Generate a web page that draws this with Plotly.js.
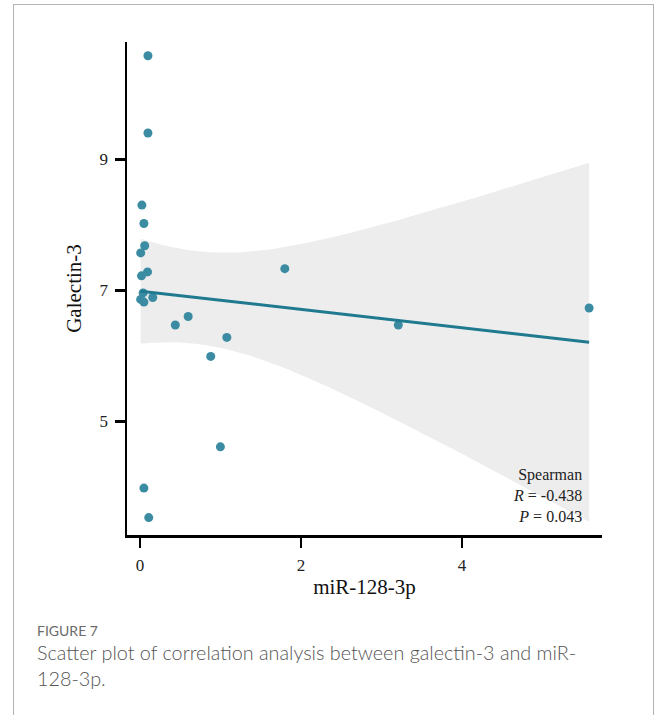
<!DOCTYPE html>
<html>
<head>
<meta charset="utf-8">
<script src="https://cdn.plot.ly/plotly-3.0.1.min.js"></script>
<style>
  html, body { margin: 0; padding: 0; background: #ffffff; }
  #wrap { position: relative; width: 656px; height: 715px; overflow: hidden; }
  #card { position: absolute; left: 13px; top: 4px; width: 641px; height: 760px; border: 1px solid #b4b4b4; box-sizing: border-box; }
  #chart { position: absolute; left: 0; top: 0; width: 656px; height: 715px; }
  #figlabel { position: absolute; left: 37px; top: 622px; font-family: Lato, "Open Sans", sans-serif; font-size: 14px; color: #6a6a6a; }
  #caption { position: absolute; left: 37px; top: 639px; width: 600px; font-family: Lato, "Open Sans", sans-serif; font-weight: 300; font-size: 19.8px; line-height: 26px; color: #555555; }
</style>
</head>
<body>
<div id="wrap">
  <div id="card"></div>
  <div id="chart"></div>
  <div id="figlabel">FIGURE 7</div>
  <div id="caption">Scatter plot of correlation analysis between galectin-3 and miR-<br>128-3p.</div>
</div>
<script>
// Data
var mir128 = [0.10, 0.10, 0.025, 0.05, 0.06, 0.01, 0.095, 0.02, 0.04, 0.01, 0.05, 0.16,
              0.44, 0.60, 1.08, 0.88, 1.80, 1.00, 0.05, 0.11, 3.21, 5.58];
var galectin3 = [10.58, 9.40, 8.30, 8.02, 7.68, 7.57, 7.28, 7.22, 6.96, 6.86, 6.82, 6.89,
                 6.47, 6.60, 6.28, 5.99, 7.33, 4.61, 3.98, 3.53, 6.47, 6.73];
var xTicks = [0, 2, 4];
var yTicks = [5, 7, 9];
var statLines = ["Spearman", "<i>R</i> = -0.438", "<i>P</i> = 0.043"];

// Linear fit with 95% confidence band (as geom_smooth(method = "lm"))
var n = mir128.length;
var mx = mir128.reduce(function(a, b){return a + b;}, 0) / n;
var my = galectin3.reduce(function(a, b){return a + b;}, 0) / n;
var sxx = 0, sxy = 0;
for (var i = 0; i < n; i++) { sxx += (mir128[i]-mx)*(mir128[i]-mx); sxy += (mir128[i]-mx)*(galectin3[i]-my); }
var slope = sxy / sxx, intercept = my - slope * mx;
var sse = 0;
for (var i = 0; i < n; i++) { var r = galectin3[i] - (intercept + slope*mir128[i]); sse += r*r; }
var s = Math.sqrt(sse / (n - 2));
var tq = 2.086; // t(0.975, df = 20)
var xmin = Math.min.apply(null, mir128), xmax = Math.max.apply(null, mir128);
var fx = [], fy = [], lo = [], hi = [];
for (var k = 0; k < 80; k++) {
  var x = xmin + (xmax - xmin) * k / 79;
  var y = intercept + slope * x;
  var se = s * Math.sqrt(1/n + (x-mx)*(x-mx)/sxx);
  fx.push(x); fy.push(y); lo.push(y - tq*se); hi.push(y + tq*se);
}
var bandX = fx.concat(fx.slice().reverse());
var bandY = hi.concat(lo.slice().reverse());

var serif = "Liberation Serif, Times New Roman, serif";
var traces = [
  { x: bandX, y: bandY, type: 'scatter', mode: 'lines', fill: 'toself', fillcolor: '#ededed',
    line: { width: 0, color: 'rgba(0,0,0,0)' }, hoverinfo: 'skip', showlegend: false },
  { x: mir128, y: galectin3, type: 'scatter', mode: 'markers',
    marker: { size: 9, color: '#3b8ca2', line: { width: 0 } }, showlegend: false },
  { x: fx, y: fy, type: 'scatter', mode: 'lines',
    line: { width: 3, color: '#1f7a8f' }, showlegend: false }
];

var layout = {
  width: 656, height: 715,
  margin: { l: 127, r: 54, t: 42, b: 180 },
  paper_bgcolor: 'rgba(0,0,0,0)', plot_bgcolor: 'rgba(0,0,0,0)',
  showlegend: false,
  xaxis: {
    range: [-0.16, 5.74], tickvals: xTicks, ticktext: xTicks.map(String),
    ticks: 'outside', ticklen: 10, tickwidth: 2.5, tickcolor: '#000',
    showline: true, linewidth: 2.5, linecolor: '#000', showgrid: false, zeroline: false,
    ticklabelstandoff: 3,
    tickfont: { family: serif, size: 17, color: '#222' },
    title: { text: 'miR-128-3p', font: { family: serif, size: 21, color: '#111' }, standoff: 6 }
  },
  yaxis: {
    range: [3.264, 10.79], tickvals: yTicks, ticktext: yTicks.map(String),
    ticks: 'outside', ticklen: 10, tickwidth: 2.5, tickcolor: '#000',
    showline: true, linewidth: 2.5, linecolor: '#000', showgrid: false, zeroline: false,
    ticklabelstandoff: 3,
    tickfont: { family: serif, size: 17, color: '#222' },
    title: { text: 'Galectin-3', font: { family: serif, size: 21, color: '#111' }, standoff: 12 }
  },
  annotations: [{
    xref: 'paper', yref: 'paper', x: 0.962, y: 0.081, xanchor: 'right', yanchor: 'middle',
    align: 'right', showarrow: false, text: statLines.join('<br>'),
    font: { family: serif, size: 16, color: '#222' }
  }]
};

Plotly.newPlot('chart', traces, layout, { displayModeBar: false, staticPlot: true });
</script>
</body>
</html>
